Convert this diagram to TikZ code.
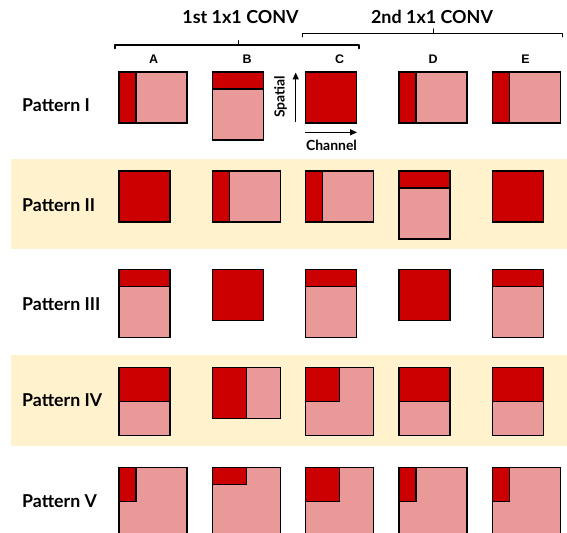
\documentclass[tikz,border=0pt]{standalone}
\usepackage{fontspec}
\setmainfont{Lato}
\newfontfamily\letterfont{Liberation Sans}
\usetikzlibrary{arrows.meta}
\definecolor{darkred}{HTML}{CC0000}
\definecolor{lightred}{HTML}{EA9999}
\definecolor{bandyellow}{HTML}{FFF2CC}
\newcommand{\cellbox}[6]{%
  \draw[lightcell] (#1,#2) rectangle ++(#3*17,#4*17);
  \draw[darkcell] (#1,#2) rectangle ++(#5*17,#6*17);
}
\begin{document}
\begin{tikzpicture}[x=1bp,y=-1bp,
  lightcell/.style={fill=lightred,draw=black,line width=1.4bp},
  darkcell/.style={fill=darkred,draw=black,line width=1.4bp},
  band/.style={fill=bandyellow},
  rowlabel/.style={anchor=base west,inner sep=0pt,font=\bfseries\fontsize{17.8}{20}\selectfont},
  title/.style={anchor=base,inner sep=0pt,font=\bfseries\fontsize{18}{21}\selectfont},
  collabel/.style={anchor=base,inner sep=0pt,font=\letterfont\bfseries\fontsize{12.5}{14}\selectfont},
  axislabel/.style={inner sep=0pt,font=\bfseries\fontsize{14}{16}\selectfont},
  brace/.style={line width=1.4bp,line cap=round,line join=round},
  axisarrow/.style={line width=1.3bp,-{Triangle[length=7bp,width=6bp]}}]
\useasboundingbox (0,0) rectangle (567,533);
\clip (0,0) rectangle (567,533);
% bands
\fill[band] (11,159) rectangle (567,249.3);
\fill[band] (11,355) rectangle (567,445.7);
% titles
\node[title] (t1) at (240.5,23.3) {1st 1x1 CONV};
\node[title] (t2) at (432,23.3) {2nd 1x1 CONV};
% braces
\draw[brace] (115,48.5) -- (115,45) -- (359,45) -- (359,48.5);
\draw[brace] (238.3,45) -- (238.3,40.7);
\draw[brace] (302.3,36.8) -- (302.3,33.3) -- (562.3,33.3) -- (562.3,36.8);
\draw[brace] (433.3,33.3) -- (433.3,29);
% column letters
\node[collabel] (cA) at (153.5,64) {A};
\node[collabel] (cB) at (247,64) {B};
\node[collabel] (cC) at (339.5,64) {C};
\node[collabel] (cD) at (433,64) {D};
\node[collabel] (cE) at (525.5,64) {E};
% row labels
\node[rowlabel] (r1) at (22,112) {Pattern I};
\node[rowlabel] (r2) at (22,211.7) {Pattern II};
\node[rowlabel] (r3) at (22,310.7) {Pattern III};
\node[rowlabel] (r4) at (22,406.7) {Pattern IV};
\node[rowlabel] (r5) at (22,507.7) {Pattern V};
% axis arrows
\coordinate (sp0) at (295.7,122);
\coordinate (sp1) at (295.7,72.5);
\coordinate (ch0) at (305,132.3);
\coordinate (ch1) at (357,132.3);
\draw[axisarrow] (sp0) -- (sp1);
\draw[axisarrow] (ch0) -- (ch1);
\node[axislabel,rotate=90] (spl) at (280.5,97) {Spatial};
\node[axislabel,anchor=base] (chl) at (331.5,151) {Channel};
% Row I
\cellbox{119}{72}{4}{3}{1}{3}
\cellbox{212.5}{72}{3}{4}{3}{1}
\cellbox{305.5}{72}{3}{3}{3}{3}
\cellbox{399}{72}{4}{3}{1}{3}
\cellbox{492.3}{72}{4}{3}{1}{3}
% Row II
\cellbox{119}{171}{3}{3}{3}{3}
\cellbox{212.5}{171}{4}{3}{1}{3}
\cellbox{305.5}{171}{4}{3}{1}{3}
\cellbox{399}{171}{3}{4}{3}{1}
\cellbox{492.3}{171}{3}{3}{3}{3}
% Row III
\cellbox{119}{269.3}{3}{4}{3}{1}
\cellbox{212.5}{269.3}{3}{3}{3}{3}
\cellbox{305.5}{269.3}{3}{4}{3}{1}
\cellbox{399}{269.3}{3}{3}{3}{3}
\cellbox{492.3}{269.3}{3}{4}{3}{1}
% Row IV
\cellbox{119}{367.3}{3}{4}{3}{2}
\cellbox{212.5}{367.3}{4}{3}{2}{3}
\cellbox{305.5}{367.3}{4}{4}{2}{2}
\cellbox{399}{367.3}{3}{4}{3}{2}
\cellbox{492.3}{367.3}{3}{4}{3}{2}
% Row V
\cellbox{119}{467.7}{4}{4}{1}{2}
\cellbox{212.5}{467.7}{4}{4}{2}{1}
\cellbox{305.5}{467.7}{4}{4}{2}{2}
\cellbox{399}{467.7}{4}{4}{1}{2}
\cellbox{492.3}{467.7}{4}{4}{1}{2}
\end{tikzpicture}
\end{document}
